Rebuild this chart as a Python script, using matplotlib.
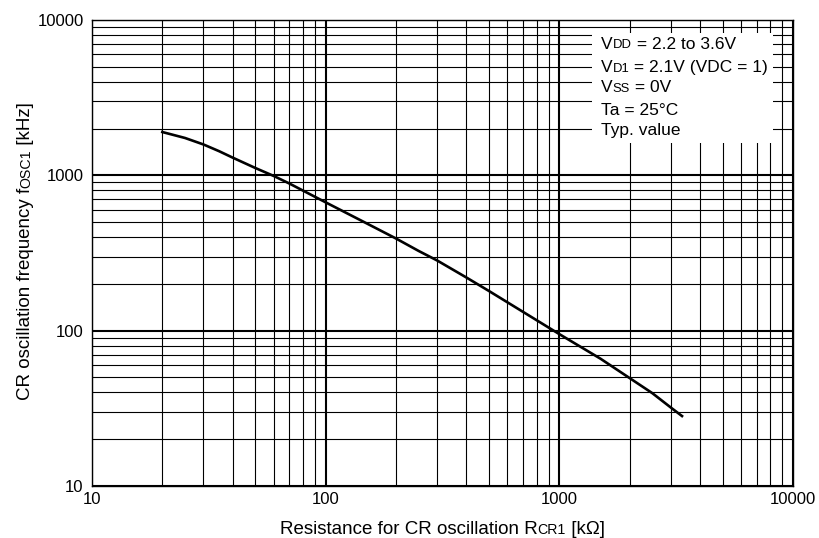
import matplotlib
matplotlib.use("Agg")
import matplotlib.pyplot as plt
from matplotlib.patches import Rectangle
from matplotlib.ticker import LogLocator, NullFormatter

plt.rcParams['font.family'] = ['Liberation Sans', 'DejaVu Sans']

# curve
r_kohm = [20, 25, 30, 35, 40, 50, 60, 70, 100, 150, 200, 250, 300, 400, 500,
          700, 1000, 1500, 2000, 2500, 3000, 3350]
f_khz = [1900, 1740, 1580, 1430, 1300, 1115, 990, 885, 670, 490, 392, 326, 283,
         220, 180, 132, 95, 66, 49.5, 39.6, 32, 28.2]

x_ticks = [10, 100, 1000, 10000]
y_ticks = [10, 100, 1000, 10000]

# (text, small?) pieces
conditions = [
    [("V", False), ("DD", True), (" = 2.2 to 3.6V", False)],
    [("V", False), ("D1", True), (" = 2.1V (VDC = 1)", False)],
    [("V", False), ("SS", True), (" = 0V", False)],
    [("Ta = 25°C", False)],
    [("Typ. value", False)],
]
xlabel_parts = [("Resistance for CR oscillation R", False), ("CR1", True), (" [kΩ]", False)]
ylabel_parts = [("CR oscillation frequency f", False), ("OSC1", True), (" [kHz]", False)]

W, H = 820, 538
fig = plt.figure(figsize=(W / 100, H / 100), dpi=100)
ax = fig.add_axes([92 / W, 1 - 486 / H, (793 - 92) / W, (486 - 20) / H])

ax.set_xscale('log')
ax.set_yscale('log')
ax.set_xlim(10, 10000)
ax.set_ylim(10, 10000)
for axis in (ax.xaxis, ax.yaxis):
    axis.set_minor_locator(LogLocator(base=10, subs=range(2, 10)))
    axis.set_minor_formatter(NullFormatter())
ax.set_xticks(x_ticks, labels=[str(v) for v in x_ticks])
ax.set_yticks(y_ticks, labels=[str(v) for v in y_ticks])
ax.tick_params(which='both', length=0, labelsize=12)
ax.tick_params(axis='x', pad=4)
ax.tick_params(axis='y', pad=6)
ax.grid(which='major', color='black', lw=1.5)
ax.grid(which='minor', color='black', lw=0.8)
for s in ax.spines.values():
    s.set_linewidth(1.0)

ax.plot(r_kohm, f_khz, color='black', lw=1.9, zorder=3)

ax.add_patch(Rectangle((0.713, 0.736), 0.258, 0.236, transform=ax.transAxes,
                       facecolor='white', edgecolor='none', zorder=2.2))


def rich(parts, x, y, size, transform, rotated=False):
    s0, small0 = parts[0]
    sz = size * 0.75 if small0 else size
    kw = dict(rotation=90, rotation_mode='anchor') if rotated else {}
    first = ax.text(x, y, s0, fontsize=sz, ha='left', va='baseline',
                    transform=transform, clip_on=False, zorder=4, **kw)
    texts = [first]
    prev, prev_sz = first, sz
    for s, small in parts[1:]:
        sz = size * 0.75 if small else size
        d = 0.21 * prev_sz
        if rotated:
            t = ax.annotate(s, xy=(1, 1), xycoords=prev, xytext=(-d, 0),
                            textcoords='offset points', fontsize=sz, ha='left',
                            va='baseline', annotation_clip=False, zorder=4, **kw)
        else:
            t = ax.annotate(s, xy=(1, 0), xycoords=prev, xytext=(0, d),
                            textcoords='offset points', fontsize=sz, ha='left',
                            va='baseline', annotation_clip=False, zorder=4)
        texts.append(t)
        prev, prev_sz = t, sz
    return texts


baselines = [0.938, 0.888, 0.845, 0.796, 0.753]
for parts, yb in zip(conditions, baselines):
    rich(parts, 0.726, yb, 12.5, ax.transAxes)

xl = rich(xlabel_parts, 0.3, 1 - 534 / H, 13.5, fig.transFigure)
yl = rich(ylabel_parts, 30 / W, 0.3, 13.5, fig.transFigure, rotated=True)

# centre the labels on the axes
fig.canvas.draw()
r = fig.canvas.get_renderer()
ext = [t.get_window_extent(r) for t in xl]
w = max(e.x1 for e in ext) - ext[0].x0
xl[0].set_x(((92 + 793) / 2 - w / 2) / W)
ext = [t.get_window_extent(r) for t in yl]
h = max(e.y1 for e in ext) - ext[0].y0
yl[0].set_y((H - 251 - h / 2) / H)

fig.savefig("out.png", dpi=100)
